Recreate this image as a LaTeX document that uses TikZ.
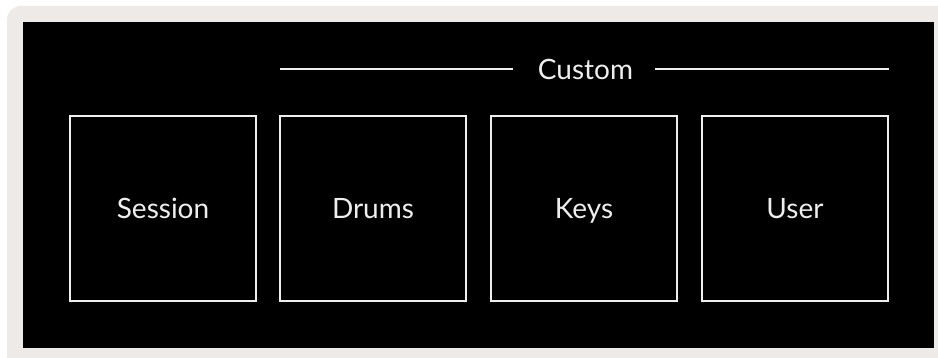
\documentclass[tikz,border=0pt]{standalone}
\usepackage{fontspec}
\setmainfont{Lato}
\definecolor{framegray}{HTML}{EDEAE8}
\definecolor{lineWhite}{HTML}{EEEEEE}
\begin{document}
\begin{tikzpicture}[x=1pt,y=-1pt,
  modebox/.style={draw=lineWhite, line width=1.6pt, minimum width=186pt, minimum height=185pt, inner sep=0pt, text=lineWhite, text height=21pt, text depth=0pt, font=\fontsize{28}{32}\selectfont},
  rule/.style={draw=lineWhite, line width=1.6pt},
  lbl/.style={text=lineWhite, inner sep=0pt, text height=20pt, text depth=0pt, font=\fontsize{28}{32}\selectfont}]
\useasboundingbox (0,0) rectangle (938,358);
\fill[white] (0,0) rectangle (938,358);
\fill[framegray, rounded corners=14pt] (7,6) rectangle (960,380);
\fill[black] (23,22) rectangle (934,348);
\node[modebox] (session) at (163,208.5) {Session};
\node[modebox] (drums) at (373,208.5) {Drums};
\node[modebox] (keys) at (584,208.5) {Keys};
\node[modebox] (user) at (795,208.5) {User};
\node[lbl] (custom) at (585.5,70) {Custom};
\coordinate (cl) at (280,69);
\coordinate (cr) at (889,69);
\draw[rule] (cl) -- ([xshift=-25pt]custom.west |- cl);
\draw[rule] ([xshift=22pt]custom.east |- cr) -- (cr);
\end{tikzpicture}
\end{document}
